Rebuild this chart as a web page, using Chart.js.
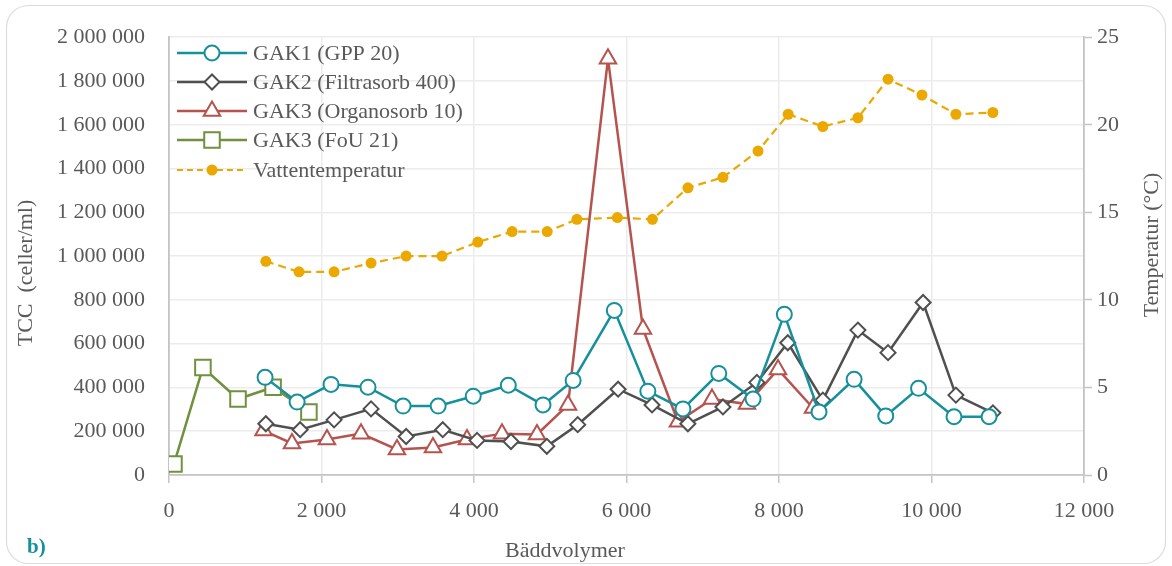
<!DOCTYPE html>
<html>
<head>
<meta charset="utf-8">
<script src="https://cdn.jsdelivr.net/npm/chart.js@4"></script>
<style>
  html, body { margin: 0; padding: 0; background: #fff; }
  #wrap { position: relative; width: 1172px; height: 566px; }
</style>
</head>
<body>
<div id="wrap"><canvas id="tccCanvas" width="1172" height="566"></canvas></div>
<script>
/* ── data ── */

const gak1X = [1260, 1680, 2125, 2610, 3070, 3530, 3990, 4450, 4905, 5300, 5840, 6280, 6740, 7210, 7660, 8070, 8525, 8985, 9400, 9830, 10295, 10755];
const gak1Y = [446000, 333000, 414000, 401000, 315000, 315000, 360000, 410000, 320000, 432000, 752000, 383000, 302000, 464000, 347000, 734000, 288000, 437000, 270000, 396000, 266000, 266000];

const gak2X = [1270, 1720, 2165, 2650, 3110, 3590, 4040, 4485, 4955, 5360, 5890, 6335, 6805, 7265, 7710, 8115, 8575, 9035, 9430, 9890, 10320, 10805];
const gak2Y = [234000, 207000, 252000, 302000, 176000, 207000, 158000, 153000, 131000, 230000, 392000, 320000, 234000, 311000, 423000, 604000, 342000, 662000, 559000, 788000, 365000, 284000];

const orgX = [1240, 1613, 2072, 2518, 2990, 3462, 3908, 4367, 4826, 5233, 5757, 6216, 6675, 7121, 7580, 7987, 8446];
const orgY = [203000, 144000, 162000, 189000, 117000, 126000, 162000, 189000, 185000, 320000, 1901000, 667000, 243000, 347000, 324000, 482000, 306000];

const fouX = [65, 445, 905, 1365, 1835];
const fouY = [50000, 491000, 347000, 401000, 288000];

const tempX = [1270, 1705, 2165, 2650, 3110, 3580, 4050, 4500, 4960, 5350, 5880, 6340, 6805, 7265, 7725, 8120, 8575, 9035, 9430, 9875, 10320, 10805];
const tempY = [12.2, 11.6, 11.6, 12.1, 12.5, 12.5, 13.3, 13.9, 13.9, 14.6, 14.7, 14.6, 16.4, 17.0, 18.5, 20.6, 19.9, 20.4, 22.6, 21.7, 20.6, 20.7];

const seriesNames = ['GAK1 (GPP 20)', 'GAK2 (Filtrasorb 400)', 'GAK3 (Organosorb 10)', 'GAK3 (FoU 21)', 'Vattentemperatur'];

const xTicks = { min: 0, max: 12000, step: 2000 };
const yTicks = { min: 0, max: 2000000, step: 200000 };
const y2Ticks = { min: 0, max: 25, step: 5 };

/* ── styling ── */

const FONT   = '"Liberation Serif", "Times New Roman", serif';
const TXT    = '#595959';
const GRID   = '#ececec';
const AXIS   = '#c4c4c4';

const pairs = (xs, ys) => xs.map((x, i) => ({ x, y: ys[i] }));
const spaced = v => String(v).replace(/\B(?=(\d{3})+(?!\d))/g, ' ');

function markerSet(color, style, radius) {
    return {
        borderColor: color,
        backgroundColor: '#fff',
        pointStyle: style,
        pointRadius: radius,
        pointHoverRadius: radius,
        pointBackgroundColor: '#fff',
        pointBorderColor: color,
        pointBorderWidth: 2,
        borderWidth: 2.5,
        tension: 0,
        fill: false,
    };
}

const datasets = [
    { label: seriesNames[0], data: pairs(gak1X, gak1Y), yAxisID: 'y', ...markerSet('#16909a', 'circle', 7.5) },
    { label: seriesNames[1], data: pairs(gak2X, gak2Y), yAxisID: 'y', ...markerSet('#505050', 'rectRot', 7.5) },
    { label: seriesNames[2], data: pairs(orgX, orgY),   yAxisID: 'y', ...markerSet('#b5534f', 'triangle', 9.5) },
    { label: seriesNames[3], data: pairs(fouX, fouY),   yAxisID: 'y', ...markerSet('#6f9140', 'rect', 11) },
    {
        label: seriesNames[4], data: pairs(tempX, tempY), yAxisID: 'y2',
        borderColor: '#eaa800', backgroundColor: '#eaa800',
        pointStyle: 'circle', pointRadius: 5.5, pointHoverRadius: 5.5,
        pointBackgroundColor: '#eaa800', pointBorderColor: '#eaa800', pointBorderWidth: 0,
        borderWidth: 2.2, borderDash: [8, 5], tension: 0, fill: false,
    },
];

/* ── frame, legend and titles drawn by hand ── */

function marker(ctx, ds, x, y) {
    const opts = {
        pointStyle: ds.pointStyle, radius: ds.pointRadius, rotation: 0,
        borderWidth: ds.pointBorderWidth,
    };
    ctx.save();
    ctx.fillStyle = ds.pointBackgroundColor;
    ctx.strokeStyle = ds.pointBorderColor;
    ctx.lineWidth = ds.pointBorderWidth;
    Chart.helpers.drawPoint(ctx, opts, x, y);
    ctx.restore();
}

const decor = {
    id: 'decor',
    beforeDraw(chart) {
        const ctx = chart.ctx;
        ctx.save();
        ctx.fillStyle = '#fff';
        ctx.fillRect(0, 0, chart.width, chart.height);
        ctx.strokeStyle = '#dcdcdc';
        ctx.lineWidth = 1.2;
        ctx.beginPath();
        ctx.roundRect(6.5, 5.5, 1159, 558, 22);
        ctx.stroke();
        ctx.restore();
    },
    afterDraw(chart) {
        const ctx = chart.ctx;
        ctx.save();

        // legend, inside the plot
        const rows = [53, 82, 111, 140, 170];
        chart.data.datasets.forEach((ds, i) => {
            const y = rows[i];
            ctx.beginPath();
            ctx.strokeStyle = ds.borderColor;
            ctx.lineWidth = ds.borderWidth;
            ctx.setLineDash(ds.borderDash ? [6, 4] : []);
            ctx.moveTo(177, y);
            ctx.lineTo(247, y);
            ctx.stroke();
            ctx.setLineDash([]);
            marker(ctx, ds, 212, y);
            ctx.fillStyle = TXT;
            ctx.font = '22px ' + FONT;
            ctx.textAlign = 'left';
            ctx.textBaseline = 'middle';
            ctx.fillText(ds.label, 253, y + 1);
        });

        // axis titles
        ctx.fillStyle = TXT;
        ctx.font = '22px ' + FONT;
        ctx.textAlign = 'center';
        ctx.textBaseline = 'middle';
        ctx.fillText('Bäddvolymer', 565, 551);

        ctx.save();
        ctx.translate(26, 273);
        ctx.rotate(-Math.PI / 2);
        ctx.fillText('TCC  (celler/ml)', 0, 0);
        ctx.restore();

        ctx.save();
        ctx.translate(1152, 245);
        ctx.rotate(-Math.PI / 2);
        ctx.fillText('Temperatur (°C)', 0, 0);
        ctx.restore();

        // panel tag
        ctx.fillStyle = '#16909a';
        ctx.font = 'bold 21px ' + FONT;
        ctx.textAlign = 'left';
        ctx.fillText('b)', 27, 548);

        ctx.restore();
    },
};

const tickFont = { family: FONT, size: 22 };

new Chart(document.getElementById('tccCanvas').getContext('2d'), {
    type: 'line',
    data: { datasets },
    options: {
        responsive: false,
        animation: false,
        layout: { padding: { left: 0, right: 0, top: 31, bottom: 0 } },
        scales: {
            x: {
                type: 'linear',
                min: xTicks.min, max: xTicks.max,
                afterFit: s => { s.height = 91; },
                grid: { color: GRID, lineWidth: 1.5, tickLength: 8, tickColor: AXIS, tickWidth: 1.5 },
                border: { color: AXIS, width: 1.8 },
                ticks: { stepSize: xTicks.step, color: TXT, font: tickFont, padding: 15, maxRotation: 0, callback: spaced },
            },
            y: {
                position: 'left',
                min: yTicks.min, max: yTicks.max,
                afterFit: s => { s.width = 169; },
                grid: { color: GRID, lineWidth: 1.5, drawTicks: false },
                border: { color: AXIS, width: 1.8 },
                ticks: { stepSize: yTicks.step, color: TXT, font: tickFont, padding: 24, callback: spaced },
            },
            y2: {
                position: 'right',
                min: y2Ticks.min, max: y2Ticks.max,
                afterFit: s => { s.width = 88; },
                grid: { drawOnChartArea: false, tickLength: 8, tickColor: AXIS, tickWidth: 1.5 },
                border: { color: AXIS, width: 1.8 },
                ticks: { stepSize: y2Ticks.step, color: TXT, font: tickFont, padding: 5 },
            },
        },
        plugins: {
            legend:  { display: false },
            tooltip: { enabled: false },
        },
    },
    plugins: [decor],
});
</script>
</body>
</html>
